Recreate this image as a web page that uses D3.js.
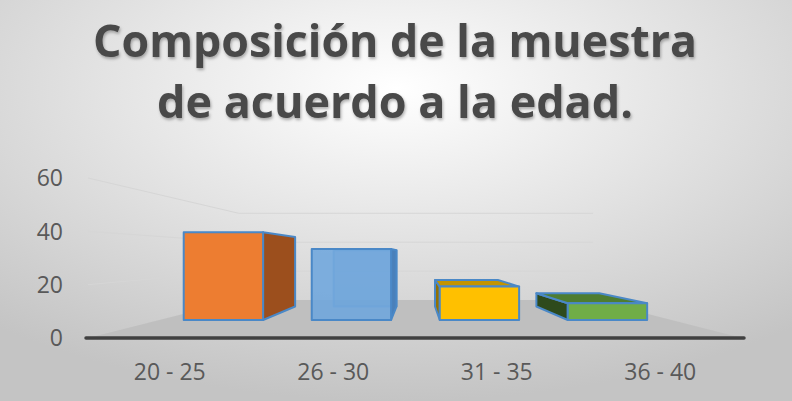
<!DOCTYPE html>
<html>
<head>
<meta charset="utf-8">
<script src="https://d3js.org/d3.v7.min.js"></script>
<style>
  body { margin: 0; background: #fff; }
  svg text { font-family: "Open Sans", sans-serif; }
</style>
</head>
<body>
<svg id="chart" width="792" height="401"></svg>
<script>
// data
const titleLines = ["Composición de la muestra", "de acuerdo a la edad."];
const categories = ["20 - 25", "26 - 30", "31 - 35", "36 - 40"];
const values = [42, 34, 16, 8];
const yTicks = [0, 20, 40, 60];

// styles per bar (front / side / top)
const frontColors = ["#ED7D31", "#6EA6DD", "#FFC000", "#70AD47"];
const sideColors = ["#9C4F1D", "#4A80BA", "#937100", "#2E4A1C"];
const topColors = ["#B85F24", "#5A90C8", "#C39400", "#4E7D31"];
const barOpacity = [1, 0.88, 1, 1];
const outline = "#4A88C7";

const svg = d3.select("#chart");
const W = +svg.attr("width"), H = +svg.attr("height");

// background radial gradient
const defs = svg.append("defs");
const grad = defs.append("radialGradient").attr("id", "bg")
    .attr("cx", "50%").attr("cy", "22%").attr("r", "78%");
grad.append("stop").attr("offset", "0%").attr("stop-color", "#ffffff");
grad.append("stop").attr("offset", "100%").attr("stop-color", "#c4c4c4");
const shadow = defs.append("filter").attr("id", "shadow")
    .attr("x", "-5%").attr("y", "-20%").attr("width", "110%").attr("height", "150%");
shadow.append("feDropShadow").attr("dx", 1).attr("dy", 2).attr("stdDeviation", 1.5)
    .attr("flood-color", "#000").attr("flood-opacity", 0.3);

svg.append("rect").attr("width", W).attr("height", H).attr("fill", "url(#bg)");

// scales on the front plane, then a simple perspective toward a vanishing point
const x = d3.scaleBand().domain(categories).range([88, 742])
    .paddingInner(0.38).paddingOuter(0.19);
const y = d3.scaleLinear().domain([0, 60]).range([338, 178]);
const VP = [417, 255];
const floorDepth = 0.458, barFront = 0.217, barBack = 0.38;
const proj = (px, py, f) => [px + f * (VP[0] - px), py + f * (VP[1] - py)];
const line = pts => "M" + pts.map(p => p.join(",")).join("L");
const poly = pts => line(pts) + "Z";

const [xl, xr] = x.range();

// gridlines on left wall + back wall
const grid = svg.append("g").attr("fill", "none").attr("stroke", "#d6d6d6").attr("stroke-width", 1);
yTicks.filter(v => v > 0).forEach(v => {
  grid.append("path").attr("d", line([
    proj(xl, y(v), 0), proj(xl, y(v), floorDepth), proj(xr, y(v), floorDepth)
  ]));
});

// floor
svg.append("path")
    .attr("d", poly([proj(xl, y(0), 0), proj(xr, y(0), 0), proj(xr, y(0), floorDepth), proj(xl, y(0), floorDepth)]))
    .attr("fill", "#bfbfbf");

// front axis line
svg.append("line")
    .attr("x1", xl - 2).attr("x2", xr + 2).attr("y1", y(0)).attr("y2", y(0))
    .attr("stroke", "#404040").attr("stroke-width", 3.5).attr("stroke-linecap", "round");

// y tick labels
svg.append("g").selectAll("text").data(yTicks).join("text")
    .attr("x", 63).attr("y", d => y(d)).attr("dy", "0.36em")
    .attr("text-anchor", "end").attr("font-size", 23).attr("fill", "#595959")
    .text(d => d);

// bars
const bars = svg.append("g").attr("stroke", outline).attr("stroke-width", 2).attr("stroke-linejoin", "round");
categories.forEach((c, i) => {
  const a = x(c), b = x(c) + x.bandwidth();
  const y0 = y(0), y1 = y(values[i]);
  const FBL = proj(a, y0, barFront), FBR = proj(b, y0, barFront);
  const FTR = proj(b, y1, barFront), FTL = proj(a, y1, barFront);
  const BBL = proj(a, y0, barBack), BBR = proj(b, y0, barBack);
  const BTR = proj(b, y1, barBack), BTL = proj(a, y1, barBack);
  const g = bars.append("g");

  if (barOpacity[i] < 1) {
    // see-through bar: hint the hidden back edges
    g.append("path").attr("d", poly([BBL, BBR, BTR, BTL]))
        .attr("fill", sideColors[i]).attr("fill-opacity", 0.35).attr("stroke-opacity", 0.6);
  }
  if (b < VP[0]) {
    g.append("path").attr("d", poly([FBR, BBR, BTR, FTR])).attr("fill", sideColors[i]);
  }
  if (a > VP[0]) {
    g.append("path").attr("d", poly([FBL, BBL, BTL, FTL])).attr("fill", sideColors[i]);
  }
  if (FTL[1] > VP[1]) {
    g.append("path").attr("d", poly([FTL, FTR, BTR, BTL])).attr("fill", topColors[i]);
  }
  g.append("path").attr("d", poly([FBL, FBR, FTR, FTL]))
      .attr("fill", frontColors[i]).attr("fill-opacity", barOpacity[i]);
});

// category labels
svg.append("g").selectAll("text").data(categories).join("text")
    .attr("x", d => x(d) + x.bandwidth() / 2).attr("y", 380)
    .attr("text-anchor", "middle").attr("font-size", 23).attr("fill", "#595959")
    .text(d => d);

// title
const titleWidths = [604, 476];
svg.append("g").attr("filter", "url(#shadow)").selectAll("text").data(titleLines).join("text")
    .attr("x", 395).attr("y", (d, i) => 57 + i * 61)
    .attr("text-anchor", "middle").attr("font-size", 44).attr("font-weight", "bold")
    .attr("fill", "#4a4a4a")
    .attr("textLength", (d, i) => titleWidths[i]).attr("lengthAdjust", "spacingAndGlyphs")
    .text(d => d);
</script>
</body>
</html>
